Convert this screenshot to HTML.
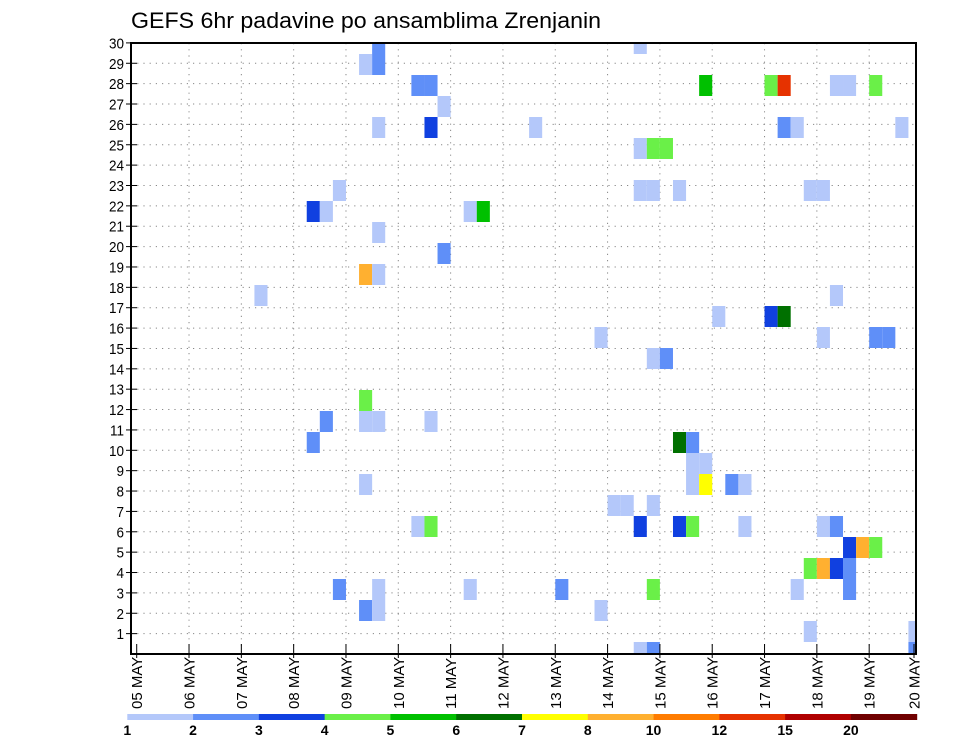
<!DOCTYPE html>
<html><head><meta charset="utf-8"><style>
html,body{margin:0;padding:0;background:#fff;}
svg{display:block;font-family:"Liberation Sans",sans-serif;}
</style></head><body>
<svg id="chart" width="960" height="742" viewBox="0 0 960 742" xmlns="http://www.w3.org/2000/svg">
<text x="131" y="28" font-size="22" textLength="470" lengthAdjust="spacingAndGlyphs" fill="#000">GEFS 6hr padavine po ansamblima Zrenjanin</text>
<defs><clipPath id="plotclip"><rect x="131" y="43" width="785" height="611"/></clipPath></defs>
<g id="grid"></g>
<g id="cells" clip-path="url(#plotclip)"></g>
<g id="axes"></g>
<g id="cbar"></g>
</svg>
<script>
// time step index (6-hr steps from 05 MAY 00Z)
const cellSteps   = [17,18,18,21,22,23,18,22,15,13,14,25,26,18,23,17,18,9,
  38,43,48,49,53,54,56,30,49,50,58,38,39,40,38,39,41,51,52,53,44,48,49,35,52,56,57,
  39,40,41,42,42,43,42,43,45,46,36,37,39,38,41,42,46,52,53,54,55,56,51,52,53,54,32,39,50,54,35,51,59,38,39,59,
  17,17,18,22,14,13,17,21,22,15,18,25,17,18];
// ensemble member index
const cellMembers = [28,28,29,27,27,26,25,25,22,21,21,21,21,20,19,18,18,17,
  29,27,27,27,27,27,27,25,25,25,25,24,24,24,22,22,22,22,22,17,16,16,16,15,15,15,15,
  14,14,10,10,9,9,8,8,8,8,7,7,7,6,6,6,6,6,6,5,5,5,4,4,4,4,3,3,3,3,2,1,1,0,0,0,
  12,11,11,11,11,10,8,6,6,3,3,3,2,2];
// colour class (1..12) of precipitation
const cellLevels  = [1,2,2,2,2,1,1,3,1,3,1,1,5,1,2,8,1,1,
  1,5,4,10,1,1,4,1,2,1,1,1,4,4,1,1,1,1,1,1,1,3,6,1,1,2,2,
  1,2,6,2,1,1,1,7,2,1,1,1,1,3,3,4,1,1,2,3,8,4,4,8,3,2,2,4,1,2,1,1,1,1,2,2,
  4,1,1,1,2,2,1,1,4,2,1,1,2,1];
const levelColors = ["#b4c8fa","#5f8ff8","#1040e0","#6af048","#00c000","#007000","#ffff00","#ffb030","#ff7c00","#e63200","#b00000","#700000"];
const levelLabels = ["1","2","3","4","5","6","7","8","10","12","15","20"];
const dayLabels = ["05","06","07","08","09","10","11","12","13","14","15","16","17","18","19","20"];
const yTicks = [1,2,3,4,5,6,7,8,9,10,11,12,13,14,15,16,17,18,19,20,21,22,23,24,25,26,27,28,29,30];

const NS="http://www.w3.org/2000/svg";
const L=131,R=916,T=43,B=654;
const x0=136.7, step=13.08;
function xStep(k){return x0+k*step;}
function xDay(d){return d===15?914:x0+d*52.32;}
function yMember(m){return 652.5-21*m;}
function yTick(v){return B-v*20.37;}
function mk(tag,attrs,parent){const e=document.createElementNS(NS,tag);for(const a in attrs)e.setAttribute(a,attrs[a]);parent.appendChild(e);return e;}

const grid=document.getElementById('grid');
yTicks.forEach(v=>{
  const ln=mk('line',{x1:L,x2:R,y1:yTick(v),y2:yTick(v),stroke:'#888','stroke-width':1,'stroke-dasharray':'1.2 5'},grid);
  
  
});
dayLabels.forEach((d,i)=>{
  if(i===0||i===15)return;
  const ln=mk('line',{x1:xDay(i),x2:xDay(i),y1:T,y2:B,stroke:'#888','stroke-width':1,'stroke-dasharray':'1.2 5'},grid);
  
  
});

const cells=document.getElementById('cells');
for(let i=0;i<cellSteps.length;i++){
  const r=mk('rect',{x:xStep(cellSteps[i]),y:yMember(cellMembers[i])-10.5,width:step,height:21,fill:levelColors[cellLevels[i]-1]},cells);
  
  
}

const axes=document.getElementById('axes');
const fr=mk('rect',{x:L,y:T,width:R-L,height:B-T,fill:'none',stroke:'#000','stroke-width':2},axes);


yTicks.forEach(v=>{
  const y=yTick(v);
  mk('line',{x1:126,x2:137,y1:y,y2:y,stroke:'#000','stroke-width':1},axes);
  const t=mk('text',{x:0,y:0,'font-size':15,'text-anchor':'end',fill:'#000',transform:`translate(124,${y+5.5}) scale(0.9,1)`},axes);
  t.textContent=v;
  
  
});
dayLabels.forEach((d,i)=>{
  const x=xDay(i);
  mk('line',{x1:x,x2:x,y1:B-10,y2:B+4,stroke:'#000','stroke-width':1},axes);
  const t=mk('text',{x:0,y:0,'font-size':15,'text-anchor':'start',fill:'#000',transform:`translate(${x+5.5},709) rotate(-90)`},axes);
  t.textContent=d+'  MAY';
  
  
});

const cb=document.getElementById('cbar');
const cbL=127.3,cbW=(916.7-127.3)/12;
levelColors.forEach((c,i)=>{
  const r=mk('rect',{x:cbL+i*cbW,y:714,width:cbW+0.5,height:6,fill:c},cb);
  
  
  const t=mk('text',{x:cbL+i*cbW,y:735,'font-size':14,'font-weight':'bold','text-anchor':'middle',fill:'#000'},cb);
  t.textContent=levelLabels[i];
  
  
});
</script>
</body></html>
